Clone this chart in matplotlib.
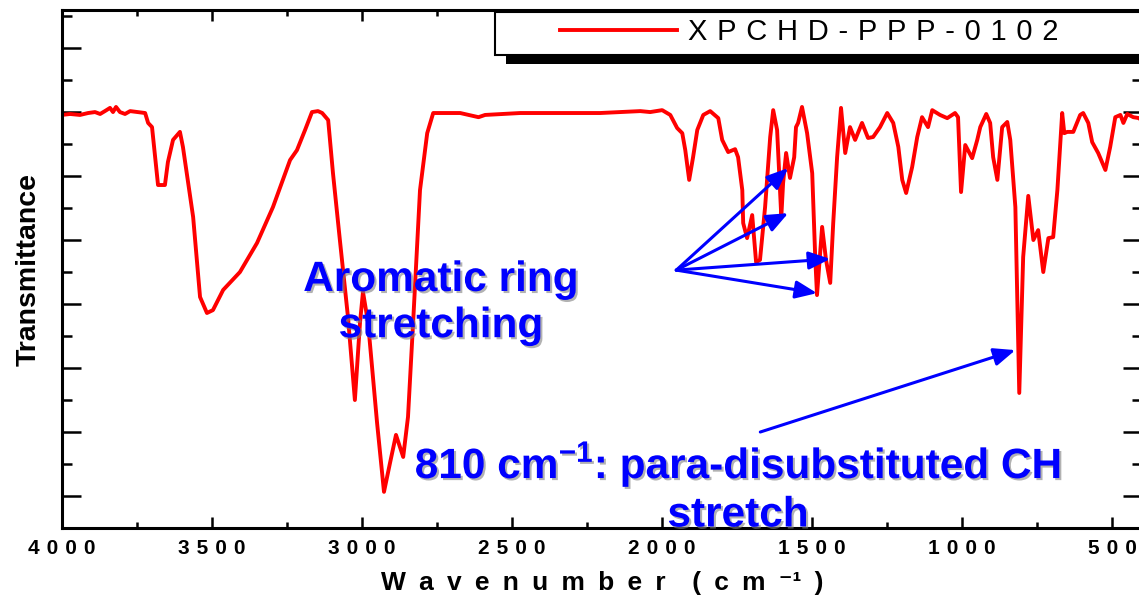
import matplotlib
matplotlib.use('Agg')
import matplotlib.pyplot as plt
import matplotlib.patheffects as pe
from matplotlib.patches import Rectangle
from matplotlib.ticker import MultipleLocator, FuncFormatter

plt.rcParams['font.family'] = ['Liberation Sans', 'DejaVu Sans']
plt.rcParams['font.weight'] = 'bold'
plt.rcParams['mathtext.fontset'] = 'custom'
plt.rcParams['mathtext.rm'] = 'Liberation Sans'
plt.rcParams['mathtext.bf'] = 'Liberation Sans:bold'

# FTIR spectrum (cm-1, transmittance in arbitrary units)
wavenumber = [
    4000, 3972, 3939, 3912, 3889, 3872, 3856, 3839, 3829, 3819,
    3806, 3789, 3772, 3746, 3722, 3712, 3699, 3679, 3656, 3646,
    3629, 3606, 3596, 3562, 3539, 3516, 3496, 3462, 3406, 3349,
    3296, 3239, 3216, 3189, 3166, 3146, 3132, 3112, 3096, 3073,
    3046, 3023, 3006, 2996, 2979, 2949, 2926, 2906, 2886, 2862,
    2846, 2829, 2806, 2782, 2762, 2672, 2611, 2589, 2472, 2339,
    2206, 2072, 2039, 1999, 1972, 1949, 1932, 1922, 1909, 1896,
    1882, 1862, 1839, 1812, 1799, 1779, 1756, 1746, 1732, 1729,
    1716, 1699, 1686, 1673, 1656, 1639, 1629, 1616, 1602, 1596,
    1586, 1573, 1559, 1553, 1546, 1533, 1516, 1499, 1489, 1483,
    1466, 1453, 1439, 1429, 1416, 1403, 1389, 1373, 1356, 1333,
    1313, 1296, 1273, 1249, 1229, 1212, 1199, 1186, 1166, 1149,
    1133, 1113, 1099, 1073, 1049, 1023, 1013, 1003, 989, 966,
    949, 939, 919, 906, 896, 882, 866, 849, 839, 822,
    809, 796, 779, 762, 746, 729, 712, 696, 682, 666,
    659, 649, 629, 606, 596, 579, 566, 546, 522, 506,
    489, 472, 462, 449, 429, 409, 399,
]
transmittance = [
    129.1, 129.4, 129.1, 129.7, 130.0, 129.4, 130.3, 131.3, 130.0, 131.6,
    130.0, 129.4, 130.3, 130.0, 129.7, 126.6, 125.3, 107.2, 107.2, 114.4,
    121.3, 123.8, 119.1, 97.2, 72.2, 67.2, 68.1, 74.4, 80.0, 89.1,
    100.3, 115.0, 118.1, 124.4, 130.0, 130.3, 129.7, 127.5, 110.9, 90.0,
    65.9, 40.0, 64.1, 73.8, 64.1, 32.8, 11.3, 20.3, 29.1, 22.2,
    34.7, 64.1, 105.6, 123.4, 129.7, 129.7, 128.4, 129.1, 129.7, 129.7,
    129.7, 130.3, 130.0, 130.6, 129.1, 125.0, 123.4, 118.1, 108.8, 115.9,
    124.4, 129.1, 130.3, 128.1, 121.3, 117.5, 118.4, 115.9, 105.6, 95.3,
    90.6, 97.8, 83.1, 83.8, 100.3, 122.2, 130.6, 124.4, 97.2, 107.8,
    117.2, 109.4, 115.9, 125.3, 126.6, 131.6, 123.4, 110.9, 84.7, 72.8,
    94.1, 83.8, 76.6, 95.3, 115.9, 131.3, 117.2, 125.3, 121.3, 126.6,
    121.9, 122.2, 125.3, 129.7, 126.6, 119.1, 108.8, 104.7, 112.8, 122.2,
    128.4, 125.3, 130.6, 129.1, 128.1, 129.7, 128.4, 105.0, 119.7, 115.6,
    121.3, 125.3, 129.4, 126.6, 115.9, 108.8, 125.3, 126.9, 121.3, 100.3,
    42.2, 84.7, 103.8, 90.0, 93.1, 80.0, 90.6, 90.9, 105.6, 129.7,
    123.4, 123.8, 123.8, 129.1, 129.7, 126.6, 120.6, 117.2, 111.9, 119.1,
    128.4, 129.1, 126.6, 129.4, 128.4, 128.1, 126.9,
]

sample_name = 'XPCHD-PPP-0102'

# annotations (data coordinates)
ring_text = 'Aromatic ring\nstretching'
ring_text_xy = (2736, 70.3)
ring_arrow_tail = (1952, 80.6)
ring_arrow_tips = [(1579, 112.5), (1579, 98.4), (1439, 84.1), (1483, 73.4)]
para_text = '810 cm$^{\\mathbf{-1}}$: para-disubstituted CH\nstretch'
para_text_xy = (1746, 12.6)
para_arrow_tail = (1672, 30.0)
para_arrow_tip = (822, 55.6)


# Origin-style letter spacing
def spaced(s, sep='\u2004'):
    return sep.join(s)


W, H = 1139, 601
fig = plt.figure(figsize=(W / 100, H / 100), dpi=100)
ax = fig.add_axes([61.7 / W, 73 / H, (1142 - 61.7) / W, 518 / H])

line, = ax.plot(wavenumber, transmittance, color='#ff0000', lw=2.8)

ax.set_xlim(4000, 400)
ax.set_ylim(0, 161.9)

ax.xaxis.set_major_locator(MultipleLocator(500))
ax.xaxis.set_minor_locator(MultipleLocator(250))
ax.xaxis.set_major_formatter(FuncFormatter(lambda v, p: spaced(str(int(round(v))))))
ax.yaxis.set_major_locator(MultipleLocator(20, offset=10))
ax.yaxis.set_minor_locator(MultipleLocator(10))

for s in ax.spines.values():
    s.set_linewidth(2.2)
ax.tick_params(which='both', direction='in', top=True, right=True, width=1.8)
ax.tick_params(axis='x', which='major', length=8, pad=8, labelsize=15)
ax.tick_params(axis='x', which='minor', length=4.3)
ax.tick_params(axis='y', which='major', length=13.7, labelleft=False)
ax.tick_params(axis='y', which='minor', length=7.2)

en = '\u2002'
xlabel = spaced('Wavenumber', en) + en * 2 + spaced('(cm', en) + en + '\u207b\u00b9' + en + ')'
ax.set_xlabel(xlabel, fontsize=19, fontweight='bold', labelpad=9)
ax.set_ylabel('Transmittance', fontsize=20.5, fontweight='bold', labelpad=11)

# blue annotations with a grey drop shadow
shadow_fx = [pe.SimplePatchShadow(offset=(1.5, -1.5), shadow_rgbFace='0.5', alpha=0.6), pe.Normal()]
ax.text(*ring_text_xy, ring_text, ha='center', va='center', color='#0000ff',
        fontsize=30.5, fontweight='bold', path_effects=shadow_fx)
ax.text(*para_text_xy, para_text, ha='center', va='center', color='#0000ff',
        fontsize=30.5, fontweight='bold', path_effects=shadow_fx, zorder=5)

arrow = dict(arrowstyle='-|>,head_length=0.65,head_width=0.27', color='#0000ff',
             lw=2.2, mutation_scale=20, shrinkA=0, shrinkB=0)
for tip in ring_arrow_tips:
    ax.annotate('', xy=tip, xytext=ring_arrow_tail, arrowprops=arrow)
ax.annotate('', xy=para_arrow_tip, xytext=para_arrow_tail, arrowprops=arrow)

# legend box with a solid black shadow, Origin style
fig.add_artist(Rectangle((506 / W, 1 - 64 / H), (1170 - 506) / W, (64 - 23) / H,
                         transform=fig.transFigure, facecolor='black', edgecolor='none', zorder=3))
fig.add_artist(Rectangle((495 / W, 1 - 55 / H), (1160 - 495) / W, (55 - 12) / H,
                         transform=fig.transFigure, facecolor='white', edgecolor='black',
                         lw=1.5, zorder=4))
fig.legend([line], [spaced(sample_name)], loc='center left',
           bbox_to_anchor=(560 / W, 1 - 32 / H), bbox_transform=fig.transFigure,
           frameon=False, borderpad=0, borderaxespad=0, handlelength=4.0,
           handletextpad=0.38, prop=dict(size=21, weight='normal'))

fig.savefig('out.png', dpi=100)
